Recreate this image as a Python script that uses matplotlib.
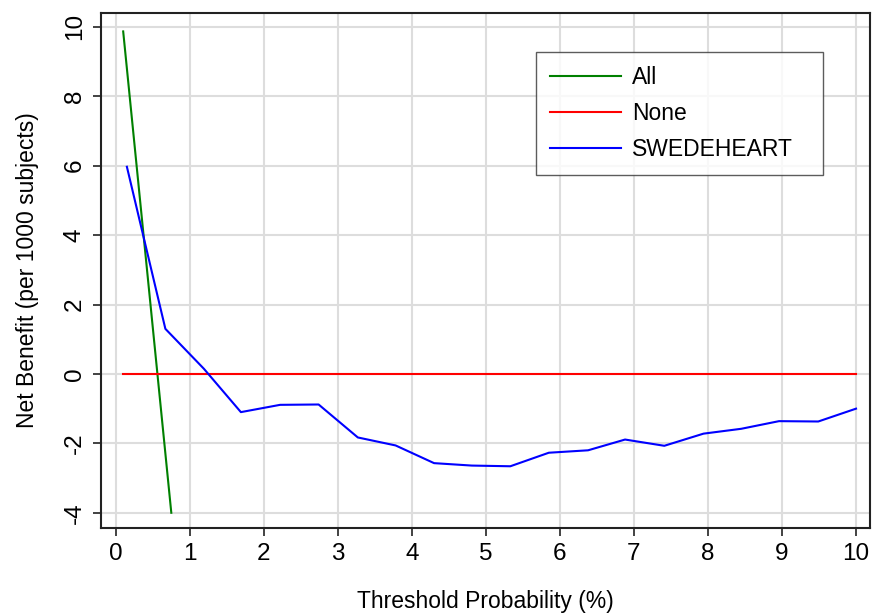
import numpy as np
from matplotlib import pyplot as plt

plt.rcParams["font.family"] = ["Liberation Sans", "DejaVu Sans"]
plt.rcParams["axes.unicode_minus"] = False

# threshold probability (%) and net benefit (per 1000 subjects)
all_x = [0.1, 0.75]
all_y = [9.87, -4.0]

none_x = [0.1, 10.0]
none_y = [0.0, 0.0]

model_x = [0.15, 0.67, 1.19, 1.69, 2.22, 2.74, 3.27, 3.78, 4.30, 4.81,
           5.33, 5.85, 6.38, 6.88, 7.41, 7.94, 8.45, 8.96, 9.49, 10.0]
model_y = [5.97, 1.30, 0.15, -1.10, -0.89, -0.88, -1.83, -2.06, -2.57, -2.64,
           -2.66, -2.27, -2.20, -1.89, -2.07, -1.72, -1.58, -1.36, -1.37, -1.00]

x_ticks = list(range(0, 11))
y_ticks = [-4, -2, 0, 2, 4, 6, 8, 10]

fig = plt.figure(figsize=(8.72, 6.14), dpi=100)
ax = fig.add_axes([0.1158, 0.140, 0.882, 0.8388])

ax.plot(all_x, all_y, color="#008000", lw=1.5, label="All")
ax.plot(none_x, none_y, color="#ff0000", lw=1.5, label="None")
ax.plot(model_x, model_y, color="#0000ff", lw=1.5, label="SWEDEHEART")

ax.set_xlim(-0.2, 10.19)
ax.set_ylim(-4.44, 10.4)
ax.set_xticks(x_ticks)
ax.set_yticks(y_ticks)
ax.grid(True, color="#dddddd", lw=1.5)
ax.set_axisbelow(True)

for sp in ax.spines.values():
    sp.set_color("#222222")
    sp.set_linewidth(1.5)

ax.tick_params(axis="both", direction="out", length=6, width=1.2,
               colors="#222222", labelsize=17.5, labelcolor="black")
ax.tick_params(axis="x", pad=5)
ax.tick_params(axis="y", pad=5)
for lab in ax.get_yticklabels():
    lab.set_rotation(90)
    lab.set_va("center")

ax.set_xlabel("Threshold Probability (%)", fontsize=16.5, labelpad=18)
ax.set_ylabel("Net Benefit (per 1000 subjects)", fontsize=16.5, labelpad=18)

# legend box stretched to a fixed width in the upper right
leg = ax.legend(loc="upper left", bbox_to_anchor=(0.5657, 0.0, 0.3732, 0.924),
                mode="expand", fontsize=16.5,
                frameon=True, fancybox=False, handlelength=3.1,
                borderpad=0.6, labelspacing=0.58, handletextpad=0.5,
                borderaxespad=0)
leg.get_frame().set_edgecolor("#333333")
leg.get_frame().set_linewidth(1.0)

plt.savefig("out.png", dpi=100)
